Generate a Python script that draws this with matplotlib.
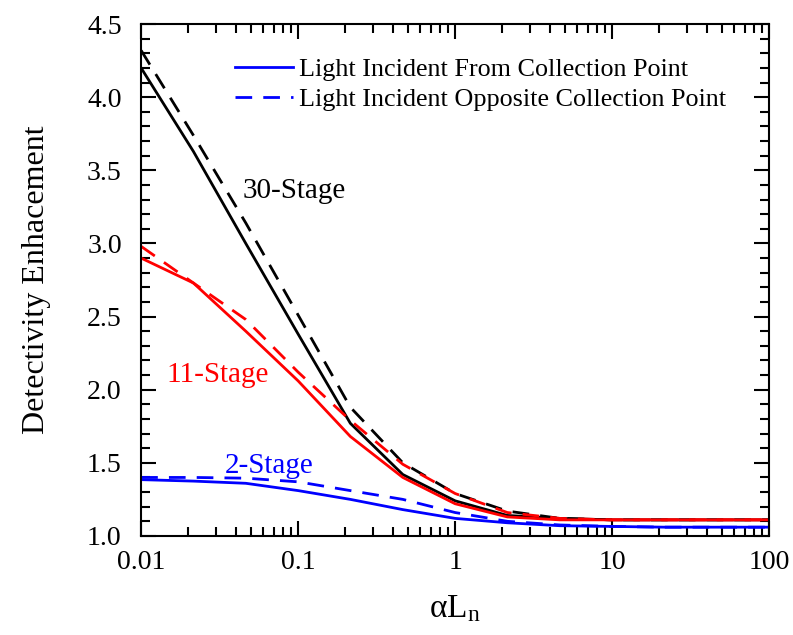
import matplotlib
matplotlib.use("Agg")
import matplotlib.pyplot as plt
from matplotlib.ticker import FixedLocator, FuncFormatter, MultipleLocator, LogLocator, NullFormatter

plt.rcParams['font.family'] = ['Liberation Serif', 'DejaVu Serif']
plt.rcParams['mathtext.fontset'] = 'stix'

# alpha*L_n sample points (three per decade)
aL = [0.01, 0.0215, 0.0464, 0.1, 0.215, 0.464, 1.0, 2.15, 4.64, 10.0, 21.5, 46.4, 100.0]

# 30-stage
stage30_from = [4.20, 3.63, 3.00, 2.38, 1.77, 1.42, 1.24, 1.14, 1.12, 1.11, 1.11, 1.11, 1.11]
stage30_opp = [4.32, 3.74, 3.14, 2.51, 1.88, 1.50, 1.29, 1.17, 1.12, 1.11, 1.11, 1.11, 1.11]
# 11-stage
stage11_from = [2.90, 2.73, 2.40, 2.06, 1.68, 1.40, 1.22, 1.13, 1.11, 1.11, 1.11, 1.11, 1.11]
stage11_opp = [2.98, 2.73, 2.48, 2.12, 1.79, 1.49, 1.29, 1.16, 1.12, 1.11, 1.11, 1.11, 1.11]
# 2-stage
stage2_from = [1.385, 1.375, 1.36, 1.31, 1.25, 1.18, 1.12, 1.09, 1.07, 1.065, 1.06, 1.06, 1.06]
stage2_opp = [1.40, 1.40, 1.395, 1.37, 1.31, 1.25, 1.16, 1.10, 1.075, 1.065, 1.06, 1.06, 1.06]

fig = plt.figure(figsize=(7.93, 6.35), dpi=100)
ax = fig.add_axes([0.178, 0.156, 0.792, 0.806])

lw = 2.0
dash = (0, (6, 4))
ax.plot(aL, stage30_from, color='black', lw=lw)
ax.plot(aL, stage30_opp, color='black', lw=lw, linestyle=dash)
ax.plot(aL, stage11_from, color='#ff0000', lw=lw)
ax.plot(aL, stage11_opp, color='#ff0000', lw=lw, linestyle=dash)
ax.plot(aL, stage2_from, color='#0000ff', lw=lw, label='Light Incident From Collection Point')
ax.plot(aL, stage2_opp, color='#0000ff', lw=lw, linestyle=dash, label='Light Incident Opposite Collection Point')

ax.text(0.094, 3.36, '30-Stage', color='black', fontsize=21, ha='center', va='center')
ax.text(0.0305, 2.10, '11-Stage', color='#ff0000', fontsize=21, ha='center', va='center')
ax.text(0.065, 1.48, '2-Stage', color='#0000ff', fontsize=21, ha='center', va='center')

ax.set_xscale('log')
ax.set_xlim(0.01, 100)
ax.set_ylim(1.0, 4.5)

ax.xaxis.set_major_locator(FixedLocator([0.01, 0.1, 1, 10, 100]))
ax.xaxis.set_major_formatter(FuncFormatter(lambda v, p: f"{v:g}"))
ax.xaxis.set_minor_locator(LogLocator(base=10, subs=range(2, 10)))
ax.xaxis.set_minor_formatter(NullFormatter())
ax.yaxis.set_major_locator(MultipleLocator(0.5))
ax.yaxis.set_minor_locator(MultipleLocator(0.1))
ax.yaxis.set_major_formatter(FuncFormatter(lambda v, p: f"{v:.1f}"))

ax.tick_params(which='both', direction='in', top=True, right=True, width=1.5, labelsize=20)
ax.tick_params(which='major', length=11)
ax.tick_params(which='minor', length=6.5)
ax.tick_params(axis='x', which='major', pad=10)
ax.tick_params(axis='y', which='major', pad=14)
for s in ax.spines.values():
    s.set_linewidth(1.5)

ax.set_xlabel('αL$_\\mathregular{n}$', fontsize=24, labelpad=14)
ax.set_ylabel('Detectivity Enhacement', fontsize=23, labelpad=26)

ax.legend(loc='upper left', frameon=False, fontsize=18.8, handlelength=2.2,
          bbox_to_anchor=(0.150, 0.934), handletextpad=0.25, labelspacing=0.25,
          borderpad=0, borderaxespad=0)

fig.savefig('out.png', dpi=100)
